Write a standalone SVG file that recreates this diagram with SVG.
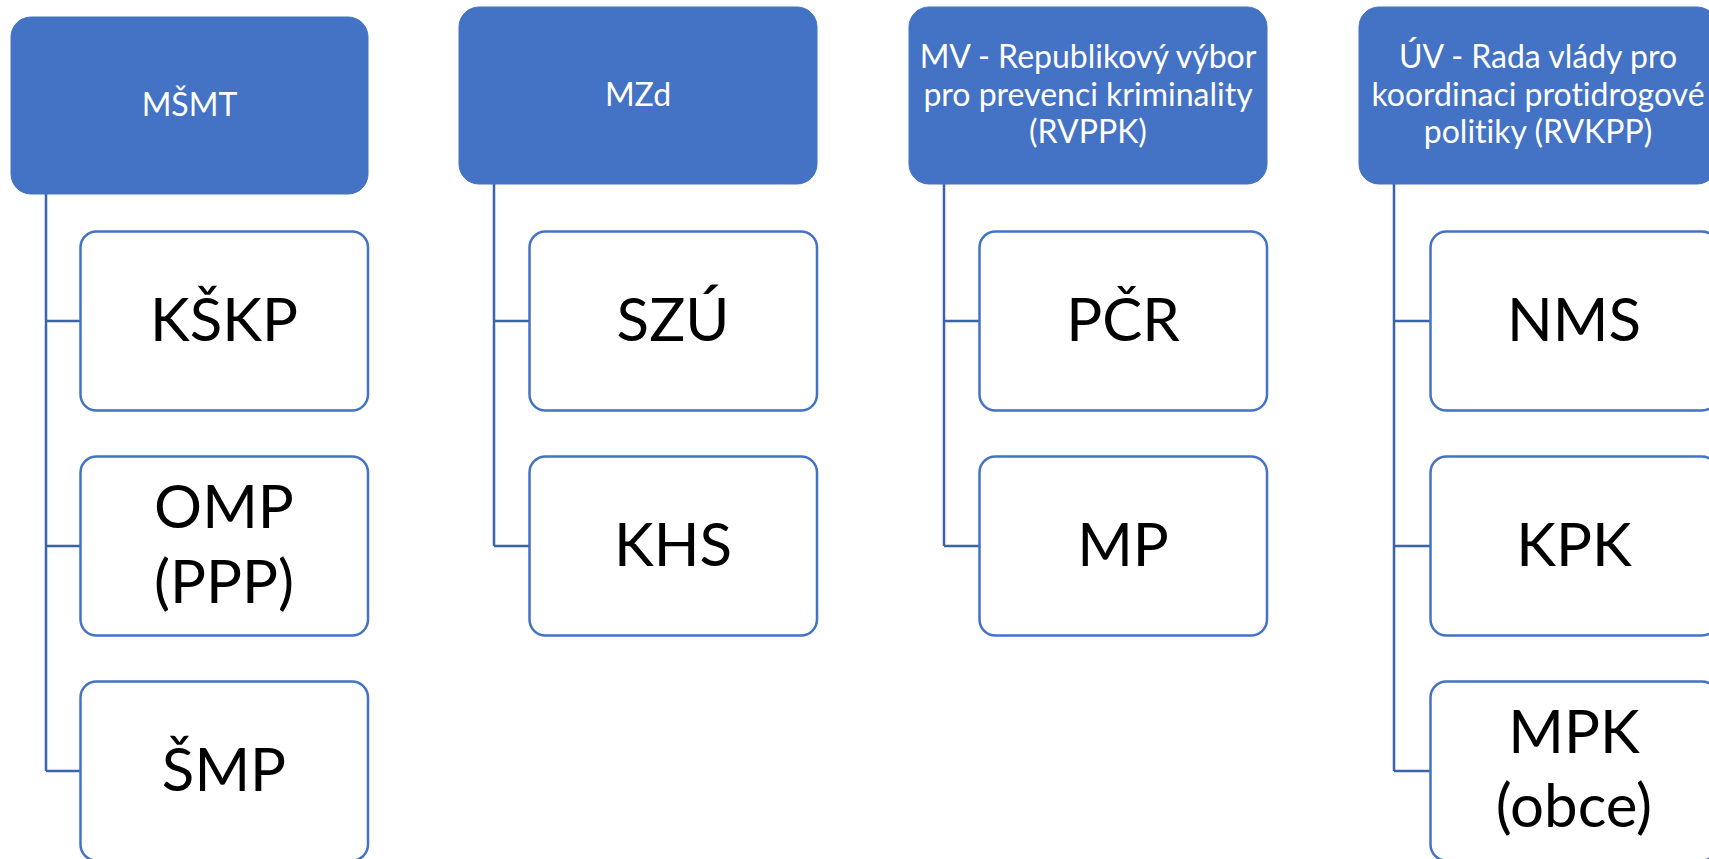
<svg xmlns="http://www.w3.org/2000/svg" width="1709" height="859" viewBox="0 0 1709 859">
<style>
.hdr{fill:#4472C4;stroke:#4472C4;stroke-width:1}
.child{fill:#FFFFFF;stroke:#4472C4;stroke-width:2.5}
.ht{font-family:Lato,"Liberation Sans",sans-serif;font-size:32px;fill:#FFFFFF;text-anchor:middle;font-variant-ligatures:none;font-feature-settings:"liga" 0}
.ct{font-family:Lato,"Liberation Sans",sans-serif;font-size:60px;fill:#000000;text-anchor:middle;font-variant-ligatures:none}
.conn{fill:none;stroke:#3A62AD;stroke-width:2.5}
</style>
<rect width="1709" height="859" fill="#FFFFFF"/>
<g id="connectors">
<path class="conn" d="M46,194 V771 M46,321 H80 M46,546 H80 M46,771 H80"/>
<path class="conn" d="M494,184 V546 M494,321 H529 M494,546 H529"/>
<path class="conn" d="M944,184 V546 M944,321 H979 M944,546 H979"/>
<path class="conn" d="M1394,184 V771 M1394,321 H1430 M1394,546 H1430 M1394,771 H1430"/>
</g>
<g id="msmt"><rect class="hdr" x="11" y="17" width="357" height="177" rx="20"/><text class="ht" x="189.5" y="116">MŠMT</text></g>
<g id="mzd"><rect class="hdr" x="459" y="7" width="358" height="177" rx="20"/><text class="ht" x="638" y="106">MZd</text></g>
<g id="mv"><rect class="hdr" x="909" y="7" width="358" height="177" rx="20"/><text class="ht" x="1088"><tspan x="1088" y="68">MV - Republikový výbor</tspan><tspan x="1088" y="106">pro prevenci kriminality</tspan><tspan x="1088" y="143">(RVPPK)</tspan></text></g>
<g id="uv"><rect class="hdr" x="1359" y="7" width="358" height="177" rx="20"/><text class="ht" x="1538"><tspan x="1538" y="68">ÚV - Rada vlády pro</tspan><tspan x="1538" y="106">koordinaci protidrogové</tspan><tspan x="1538" y="143">politiky (RVKPP)</tspan></text></g>
<g id="kskp"><rect class="child" x="80.5" y="231.5" width="287.5" height="179" rx="16"/><text class="ct" x="224" y="341">KŠKP</text></g>
<g id="omp"><rect class="child" x="80.5" y="456.5" width="287.5" height="179" rx="16"/><text class="ct" x="224"><tspan x="224" y="528">OMP</tspan><tspan x="224" y="603">(PPP)</tspan></text></g>
<g id="smp"><rect class="child" x="80.5" y="681.5" width="287.5" height="179" rx="16"/><text class="ct" x="224" y="791">ŠMP</text></g>
<g id="szu"><rect class="child" x="529.5" y="231.5" width="287.5" height="179" rx="16"/><text class="ct" x="673" y="341">SZÚ</text></g>
<g id="khs"><rect class="child" x="529.5" y="456.5" width="287.5" height="179" rx="16"/><text class="ct" x="673" y="566">KHS</text></g>
<g id="pcr"><rect class="child" x="979.5" y="231.5" width="287.5" height="179" rx="16"/><text class="ct" x="1123" y="341">PČR</text></g>
<g id="mp"><rect class="child" x="979.5" y="456.5" width="287.5" height="179" rx="16"/><text class="ct" x="1123" y="566">MP</text></g>
<g id="nms"><rect class="child" x="1430.5" y="231.5" width="287.5" height="179" rx="16"/><text class="ct" x="1574" y="341">NMS</text></g>
<g id="kpk"><rect class="child" x="1430.5" y="456.5" width="287.5" height="179" rx="16"/><text class="ct" x="1574" y="566">KPK</text></g>
<g id="mpk"><rect class="child" x="1430.5" y="681.5" width="287.5" height="179" rx="16"/><text class="ct" x="1574"><tspan x="1574" y="753">MPK</tspan><tspan x="1574" y="827">(obce)</tspan></text></g>
</svg>
